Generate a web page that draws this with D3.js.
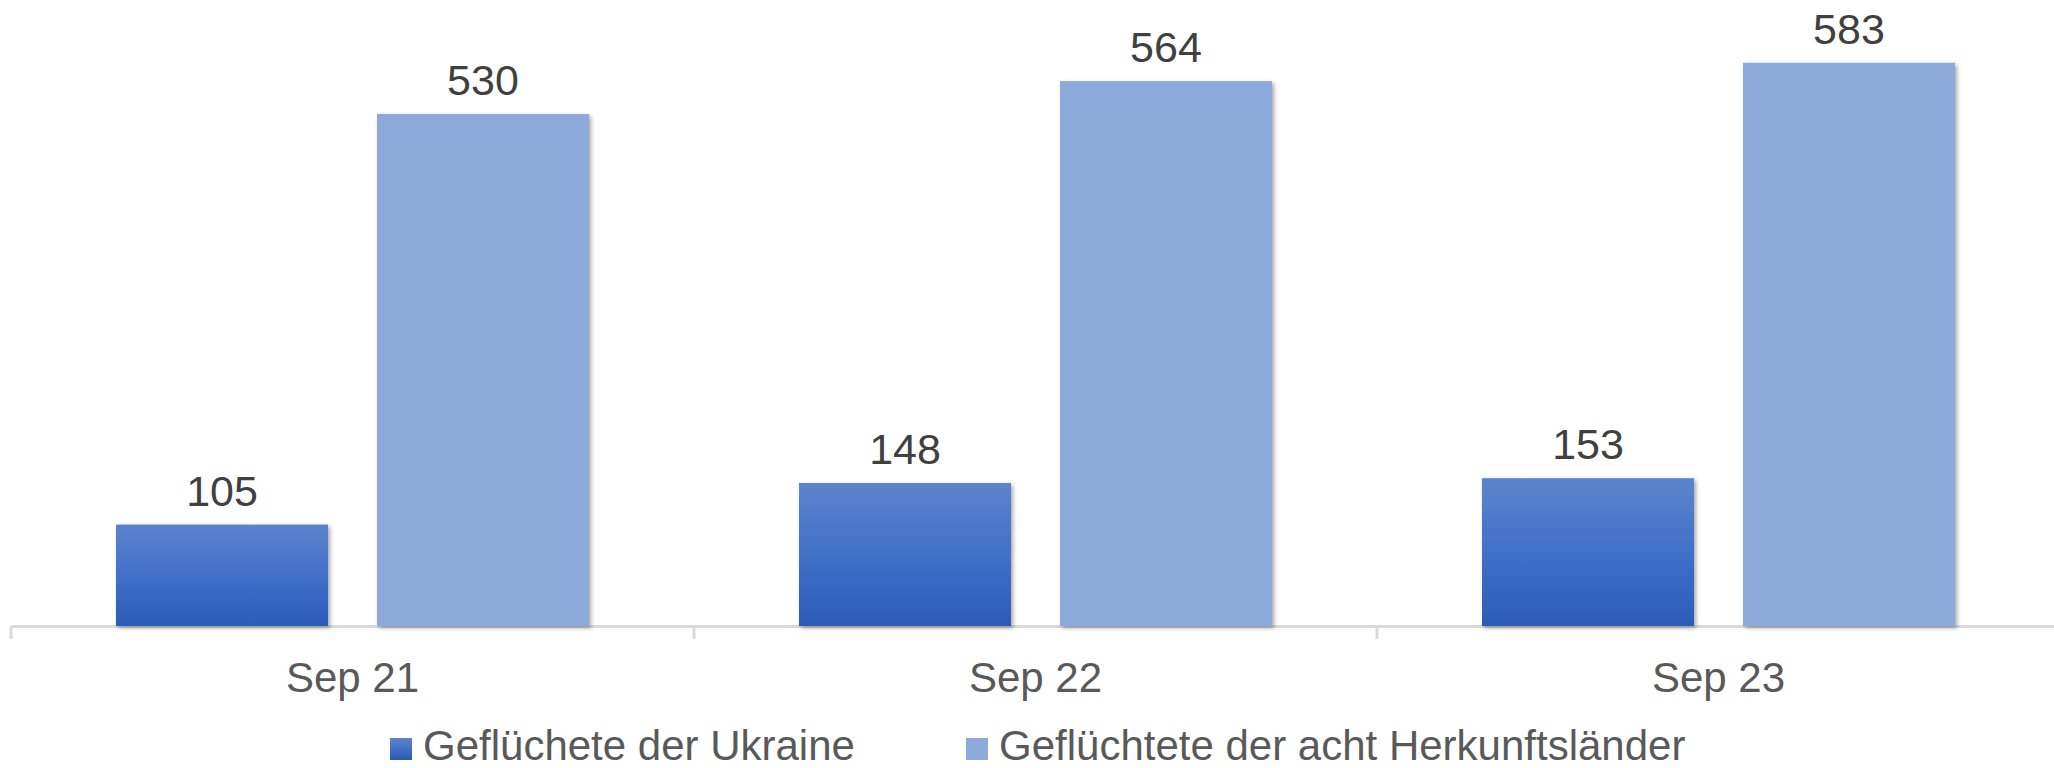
<!DOCTYPE html>
<html><head><meta charset="utf-8">
<script src="https://cdn.jsdelivr.net/npm/d3@7"></script>
<style>html,body{margin:0;padding:0;background:#fff;}svg{display:block;font-family:"Liberation Sans",Arial,sans-serif;}</style>
</head><body>
<svg id="chart" width="2054" height="768"></svg>
<script>
const categories = ["Sep 21", "Sep 22", "Sep 23"];
const seriesNames = ["Geflüchete der Ukraine", "Geflüchtete der acht Herkunftsländer"];
const ukraine = [105, 148, 153];
const herkunft = [530, 564, 583];

const svg = d3.select("#chart");
const x0 = 11, x1 = 2060, yBase = 626, yTop = 0;
const x = d3.scaleBand().domain(categories).range([x0, x1]).paddingInner(0).paddingOuter(0);
const inner = d3.scaleBand().domain([0, 1]).range([105, x.bandwidth() - 105]).paddingInner(0.1877);
const y = d3.scaleLinear().domain([0, 648]).range([yBase, yTop]);

const defs = svg.append("defs");
const g1 = defs.append("linearGradient").attr("id", "gDark").attr("x1", 0).attr("y1", 0).attr("x2", 0).attr("y2", 1);
g1.append("stop").attr("offset", "0%").attr("stop-color", "#5d83cd");
g1.append("stop").attr("offset", "50%").attr("stop-color", "#4170c8");
g1.append("stop").attr("offset", "100%").attr("stop-color", "#2b5bb6");
const lg1 = defs.append("linearGradient").attr("id", "gDarkL").attr("x1", 0).attr("y1", 0).attr("x2", 0).attr("y2", 1);
lg1.append("stop").attr("offset", "0%").attr("stop-color", "#5d83cd");
lg1.append("stop").attr("offset", "100%").attr("stop-color", "#2b5bb6");
const f = defs.append("filter").attr("id", "shadow").attr("x", "-10%").attr("y", "-10%").attr("width", "130%").attr("height", "130%");
f.append("feDropShadow").attr("dx", 2).attr("dy", 2).attr("stdDeviation", 2).attr("flood-color", "#000").attr("flood-opacity", 0.35);

const fills = ["url(#gDark)", "#8eaadb"];
const series = [ukraine, herkunft];

// axis
const axis = d3.axisBottom(x).tickSize(13).tickSizeOuter(0).tickFormat(() => "");
const axG = svg.append("g").attr("transform", `translate(0,${yBase})`).call(axis);
axG.select(".domain").attr("stroke", "#d9d9d9").attr("stroke-width", 3);
axG.selectAll(".tick").remove();
const bounds = categories.map(c => x(c)).concat([x1]);
axG.selectAll("line.b").data(bounds).join("line").attr("class", "b")
  .attr("x1", d => d).attr("x2", d => d).attr("y1", 0).attr("y2", 13)
  .attr("stroke", "#d9d9d9").attr("stroke-width", 3);

// bars
series.forEach((vals, si) => {
  svg.append("g").selectAll("rect").data(vals).join("rect")
    .attr("x", (d, i) => x(categories[i]) + inner(si))
    .attr("y", d => y(d))
    .attr("width", inner.bandwidth())
    .attr("height", d => yBase - y(d))
    .attr("fill", fills[si])
    .attr("filter", "url(#shadow)");
  svg.append("g").selectAll("text").data(vals).join("text")
    .attr("x", (d, i) => x(categories[i]) + inner(si) + inner.bandwidth() / 2)
    .attr("y", d => y(d) - 19)
    .attr("text-anchor", "middle")
    .attr("font-size", 43)
    .attr("fill", "#404040")
    .text(d => d);
});

// category labels
svg.append("g").selectAll("text").data(categories).join("text")
  .attr("x", d => x(d) + x.bandwidth() / 2)
  .attr("y", 692)
  .attr("text-anchor", "middle")
  .attr("font-size", 42)
  .attr("fill", "#595959")
  .text(d => d);

// legend
const legX = [390, 966];
const lg = svg.append("g");
seriesNames.forEach((n, i) => {
  lg.append("rect").attr("x", legX[i]).attr("y", 738).attr("width", 22).attr("height", 22)
    .attr("fill", i === 0 ? "url(#gDarkL)" : fills[1]);
  lg.append("text").attr("x", legX[i] + 33).attr("y", 760).attr("font-size", 42)
    .attr("fill", "#595959").text(n);
});
</script>
</body></html>
